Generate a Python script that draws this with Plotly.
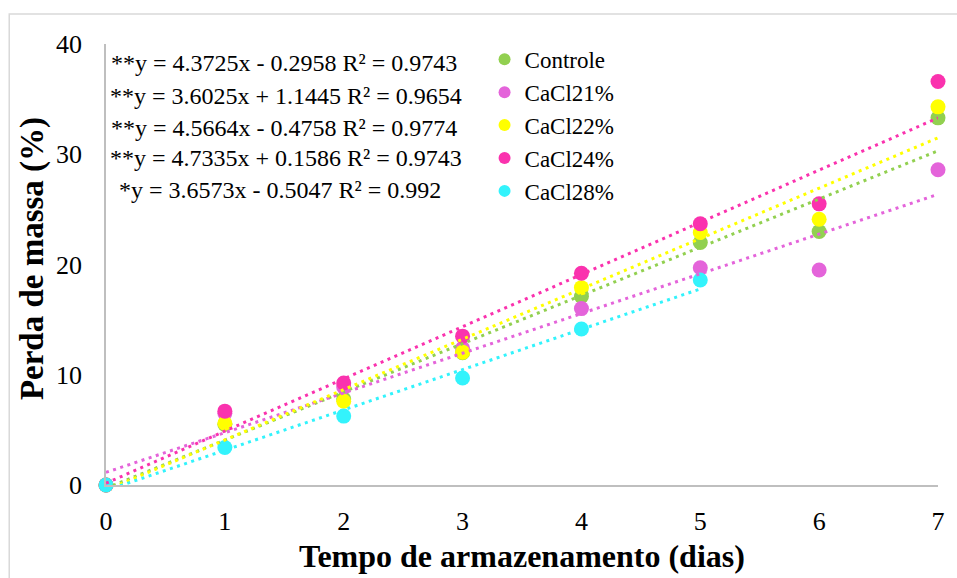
import plotly.graph_objects as go

# Storage days
days = [0, 1, 2, 3, 4, 5, 6, 7]
days_28 = [0, 1, 2, 3, 4, 5]

# Mass loss (%) per treatment
controle = [0, 5.5, 7.8, 12.0, 17.1, 22.0, 23.0, 33.3]
cacl2_1 = [0, 6.5, 8.9, 12.4, 16.0, 19.7, 19.5, 28.6]
cacl2_2 = [0, 5.6, 7.6, 12.05, 17.9, 22.9, 24.1, 34.3]
cacl2_4 = [0, 6.7, 9.25, 13.5, 19.2, 23.7, 25.5, 36.6]
cacl2_8 = [0, 3.4, 6.25, 9.7, 14.15, 18.6]

names = ["Controle", "CaCl21%", "CaCl22%", "CaCl24%", "CaCl28%"]
colors = ["#92D050", "#E464DA", "#FFFF00", "#FA32AE", "#33F3FC"]

# Linear regression coefficients (slope, intercept) and R²
slopes = [4.3725, 3.6025, 4.5664, 4.7335, 3.6573]
intercepts = [-0.2958, 1.1445, -0.4758, 0.1586, -0.5047]
equations = [
    "**y = 4.3725x - 0.2958 R² = 0.9743",
    "**y = 3.6025x + 1.1445 R² = 0.9654",
    "**y = 4.5664x - 0.4758 R² = 0.9774",
    "**y = 4.7335x + 0.1586 R² = 0.9743",
    "*y = 3.6573x - 0.5047 R² = 0.992",
]

xs = [days, days, days, days, days_28]
ys = [controle, cacl2_1, cacl2_2, cacl2_4, cacl2_8]

FONT = "Liberation Serif"

fig = go.Figure()

for name, color, x, y in zip(names, colors, xs, ys):
    fig.add_trace(go.Scatter(
        x=x, y=y, mode="markers", name=name,
        marker=dict(size=15, color=color, line=dict(width=0)),
        cliponaxis=False,
    ))

# Dotted linear trend lines over the measured range
for color, x, a, b in zip(colors, xs, slopes, intercepts):
    x_ends = [x[0], x[-1]]
    fig.add_trace(go.Scatter(
        x=x_ends, y=[a * v + b for v in x_ends], mode="lines",
        line=dict(color=color, width=3, dash="3px,4.5px"),
        showlegend=False, hoverinfo="skip", cliponaxis=False,
    ))

# Regression equations
eq_x = [0.004, 0.002, 0.004, 0.002, 0.013]
eq_y = [0.958, 0.882, 0.809, 0.741, 0.669]
for text, ex, ey in zip(equations, eq_x, eq_y):
    fig.add_annotation(
        x=ex, y=ey, xref="paper", yref="paper", text=text,
        showarrow=False, xanchor="left", yanchor="middle",
        font=dict(family=FONT, size=24, color="#000000"),
    )

# Axis titles
fig.add_annotation(
    x=-0.088, y=0.514, xref="paper", yref="paper",
    text="<b>Perda de massa (%)</b>", textangle=-90,
    showarrow=False, xanchor="center", yanchor="middle",
    font=dict(family=FONT, size=33, color="#000000"),
)
fig.add_annotation(
    x=0.5, y=-0.161, xref="paper", yref="paper",
    text="<b>Tempo de armazenamento (dias)</b>",
    showarrow=False, xanchor="center", yanchor="middle",
    font=dict(family=FONT, size=32, color="#000000"),
)

# Chart area border
fig.add_shape(
    type="rect", xref="paper", yref="paper",
    x0=-0.1163, x1=1.04, y0=-0.27, y1=1.068,
    line=dict(color="#D9D9D9", width=1.5), fillcolor="rgba(0,0,0,0)",
    layer="below",
)

fig.update_layout(
    width=957, height=578,
    margin=dict(l=106, r=17, t=44, b=93),
    paper_bgcolor="white", plot_bgcolor="white",
    font=dict(family=FONT, color="#000000"),
    showlegend=True,
    legend=dict(
        x=0.455, y=1.014, xanchor="left", yanchor="top",
        bgcolor="rgba(0,0,0,0)", borderwidth=0,
        font=dict(family=FONT, size=23, color="#000000"),
        itemsizing="constant", tracegroupgap=0,
    ),
    xaxis=dict(
        range=[0, 7], tickmode="array", tickvals=days,
        ticktext=[str(d) for d in days],
        showgrid=False, zeroline=False,
        showline=True, linecolor="#BFBFBF", linewidth=1.5,
        ticks="", ticklabelstandoff=12,
        tickfont=dict(family=FONT, size=26, color="#000000"),
    ),
    yaxis=dict(
        range=[0, 40], tickmode="array", tickvals=[0, 10, 20, 30, 40],
        showgrid=False, zeroline=False,
        showline=True, linecolor="#BFBFBF", linewidth=1.5,
        ticks="", ticklabelstandoff=17,
        tickfont=dict(family=FONT, size=26, color="#000000"),
    ),
)

fig.write_html("out.html")
